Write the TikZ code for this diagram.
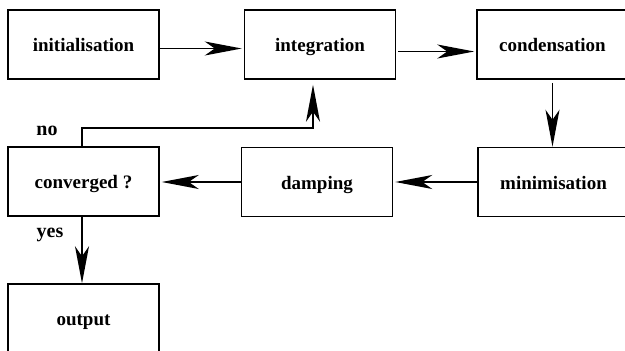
\documentclass[tikz,border=0pt]{standalone}
\usepackage{fontspec}
\setmainfont{Liberation Serif}
\usetikzlibrary{arrows.meta}
\tikzset{
  stepbox/.style={draw, line width=1.5pt, minimum width=151pt, minimum height=69pt, inner sep=0pt,
    text height=14pt, text depth=0pt,
    font=\fontsize{19}{21}\selectfont\bfseries},
  flow/.style={line width=1.5pt, -{Stealth[length=37pt, width=14pt, inset=10pt]}, shorten >=2pt},
  lbl/.style={font=\fontsize{20}{22}\selectfont\bfseries, inner sep=0pt}
}
\begin{document}
\begin{tikzpicture}[x=1pt,y=-1pt]
\useasboundingbox (0,0) rectangle (625,351);
\clip (0,0) rectangle (625,351);
\node[stepbox] (init) at (83.5,44.5) {initialisation};
\node[stepbox] (integ) at (320,44.5) {integration};
\node[stepbox] (cond) at (552.5,44.5) {condensation};
\node[stepbox] (minim) at (553.5,182) {minimisation};
\node[stepbox] (damp) at (317,182) {damping};
\node[stepbox] (conv) at (83.5,181.5) {converged ?};
\node[stepbox] (out) at (83.5,318.5) {output};
\node[lbl] (no) at (47,131) {no};
\node[lbl] (yes) at (50,235) {yes};
\coordinate (c1) at (82,128);
\coordinate (c2) at (313,128);
\draw[flow] ([yshift=-4pt]init.east) -- ([yshift=-4pt]integ.west);
\draw[flow, shorten <=2pt] ([yshift=-7pt]integ.east) -- ([yshift=-7pt]cond.west);
\draw[flow, shorten <=3pt, shorten >=0pt] (cond.south) -- (minim.north -| cond.south);
\draw[flow] (minim.west) -- (damp.east);
\draw[flow] (damp.west) -- (damp.west -| conv.east);
\draw[flow, shorten >=5pt] (conv.north -| c1) -- (c1) -- (c2) -- (c2 |- integ.south);
\draw[flow, shorten >=0pt] (conv.south -| c1) -- (out.north -| c1);
\end{tikzpicture}
\end{document}
